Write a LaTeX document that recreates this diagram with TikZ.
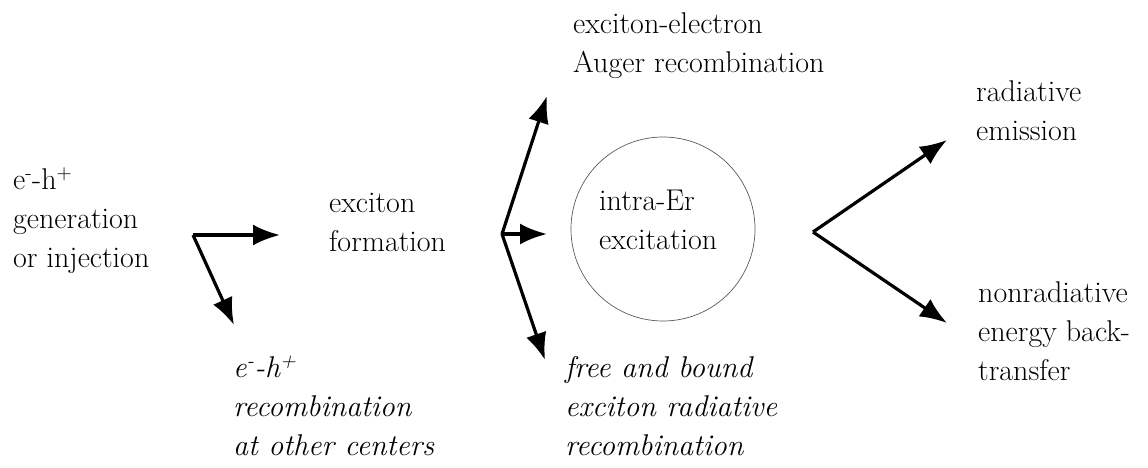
\documentclass[tikz,border=0pt]{standalone}
\usetikzlibrary{arrows.meta}
\newcommand\stacklines[1]{\vtop{\baselineskip=39pt\lineskiplimit=-100pt\relax #1}}
\begin{document}
\begin{tikzpicture}[x=1pt,y=-1pt,
  lbl/.style={font=\fontsize{30}{39}\selectfont, inner sep=0pt, anchor=base west},
  ilbl/.style={lbl, font=\fontsize{30}{39}\selectfont\itshape},
  arr/.style={line width=3.2pt, -{Latex[length=27pt,width=21pt]}},
  ring/.style={circle, draw=black!65, line width=0.7pt, minimum size=184pt, inner sep=0pt}
]
\useasboundingbox (0,0) rectangle (1148,468);

\node[lbl] (gen) at (13,189) {\stacklines{\hbox{e\textsuperscript{-}-h\textsuperscript{+}}\hbox{generation}\hbox{or injection}}};
\node[ilbl] (recomb) at (233,377) {\stacklines{\hbox{e\textsuperscript{-}-h\textsuperscript{+}}\hbox{recombination}\hbox{at other centers}}};
\node[lbl] (exc) at (329,212) {\stacklines{\hbox{exciton}\hbox{formation}}};
\node[lbl] (auger) at (573,34) {\stacklines{\hbox{exciton-electron}\hbox{Auger recombination}}};
\node[ring] (erc) at (663,229) {};
\node[lbl] (er) at (599,210) {\stacklines{\hbox{intra-Er}\hbox{excitation}}};
\node[ilbl] (free) at (565,377) {\stacklines{\hbox{free and bound}\hbox{exciton radiative}\hbox{recombination}}};
\node[lbl] (rad) at (976,102) {\stacklines{\hbox{radiative}\hbox{emission}}};
\node[lbl] (nonrad) at (978,302) {\stacklines{\hbox{nonradiative}\hbox{energy back-}\hbox{transfer}}};

\coordinate (g1) at (193,235);
\coordinate (g1e) at (280,235);
\coordinate (g1d) at (234,325);
\coordinate (f1) at (502,234);
\coordinate (f1u) at (547,96);
\coordinate (f1r) at (547,234);
\coordinate (f1d) at (545,360);
\coordinate (f2) at (813,232);
\coordinate (f2u) at (947,140);
\coordinate (f2d) at (947,323);

\draw[arr] (g1) -- (g1e);
\draw[arr] (g1) -- (g1d);
\draw[arr] (f1) -- (f1u);
\draw[arr] (f1) -- (f1r);
\draw[arr] (f1) -- (f1d);
\draw[arr] (f2) -- (f2u);
\draw[arr] (f2) -- (f2d);
\end{tikzpicture}
\end{document}
